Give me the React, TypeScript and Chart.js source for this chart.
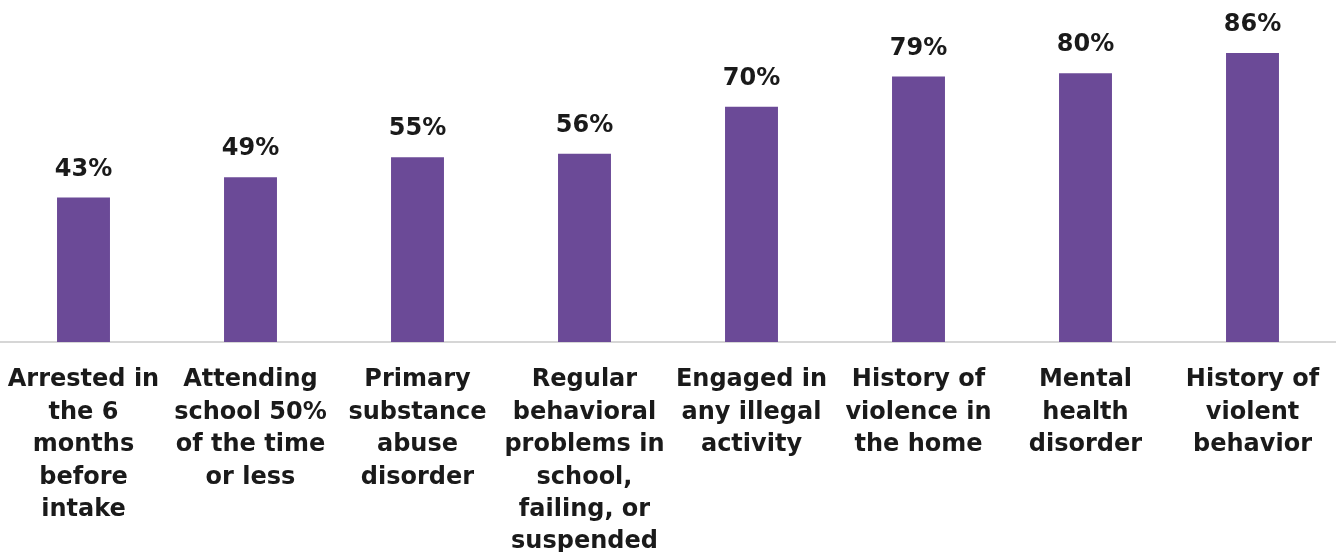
import React, { useEffect, useRef } from "react";
import { Chart, registerables } from "chart.js";

Chart.register(...registerables);

const categories: string[][] = [
  ["Arrested in", "the 6", "months", "before", "intake"],
  ["Attending", "school 50%", "of the time", "or less"],
  ["Primary", "substance", "abuse", "disorder"],
  ["Regular", "behavioral", "problems in", "school,", "failing, or", "suspended"],
  ["Engaged in", "any illegal", "activity"],
  ["History of", "violence in", "the home"],
  ["Mental", "health", "disorder"],
  ["History of", "violent", "behavior"],
];

const values: number[] = [43, 49, 55, 56, 70, 79, 80, 86];

const FONT = "'DejaVu Sans', sans-serif";

const valueLabels = {
  id: "valueLabels",
  afterDatasetsDraw(chart: any) {
    const ctx = chart.ctx;
    const meta = chart.getDatasetMeta(0);
    ctx.save();
    ctx.font = `bold 24px ${FONT}`;
    ctx.fillStyle = "#1a1a1a";
    ctx.textAlign = "center";
    ctx.textBaseline = "alphabetic";
    meta.data.forEach((bar: any, i: number) => {
      ctx.fillText(`${values[i]}%`, bar.x, bar.y - 22);
    });
    ctx.restore();
  },
};

export default function App() {
  const ref = useRef<HTMLCanvasElement | null>(null);
  useEffect(() => {
    if (!ref.current) return;
    const chart = new Chart(ref.current, {
      type: "bar",
      data: {
        labels: categories,
        datasets: [
          {
            data: values,
            backgroundColor: "#6b4a97",
            categoryPercentage: 1,
            barPercentage: 0.317,
          },
        ],
      },
      options: {
        animation: false,
        responsive: false,
        maintainAspectRatio: false,
        layout: { padding: { top: 6, left: 0, right: 0, bottom: 0 } },
        plugins: { legend: { display: false }, tooltip: { enabled: false } },
        scales: {
          y: { display: false, min: 0, max: 100 },
          x: {
            grid: { display: false, drawTicks: false },
            border: { display: true, color: "#d6d6d6", width: 2 },
            ticks: {
              color: "#1a1a1a",
              padding: 22,
              maxRotation: 0,
              autoSkip: false,
              font: { family: FONT, size: 24, weight: "bold", lineHeight: 1.35 },
            },
            afterFit(scale: any) {
              scale.height = 210;
              scale.paddingLeft = 0;
              scale.paddingRight = 0;
            },
          },
        },
      },
      plugins: [valueLabels],
    });
    return () => chart.destroy();
  }, []);
  return (
    <div style={{ position: "absolute", left: 0, top: 0, width: 1336, height: 552, background: "#fff" }}>
      <canvas ref={ref} width={1336} height={552} />
    </div>
  );
}
